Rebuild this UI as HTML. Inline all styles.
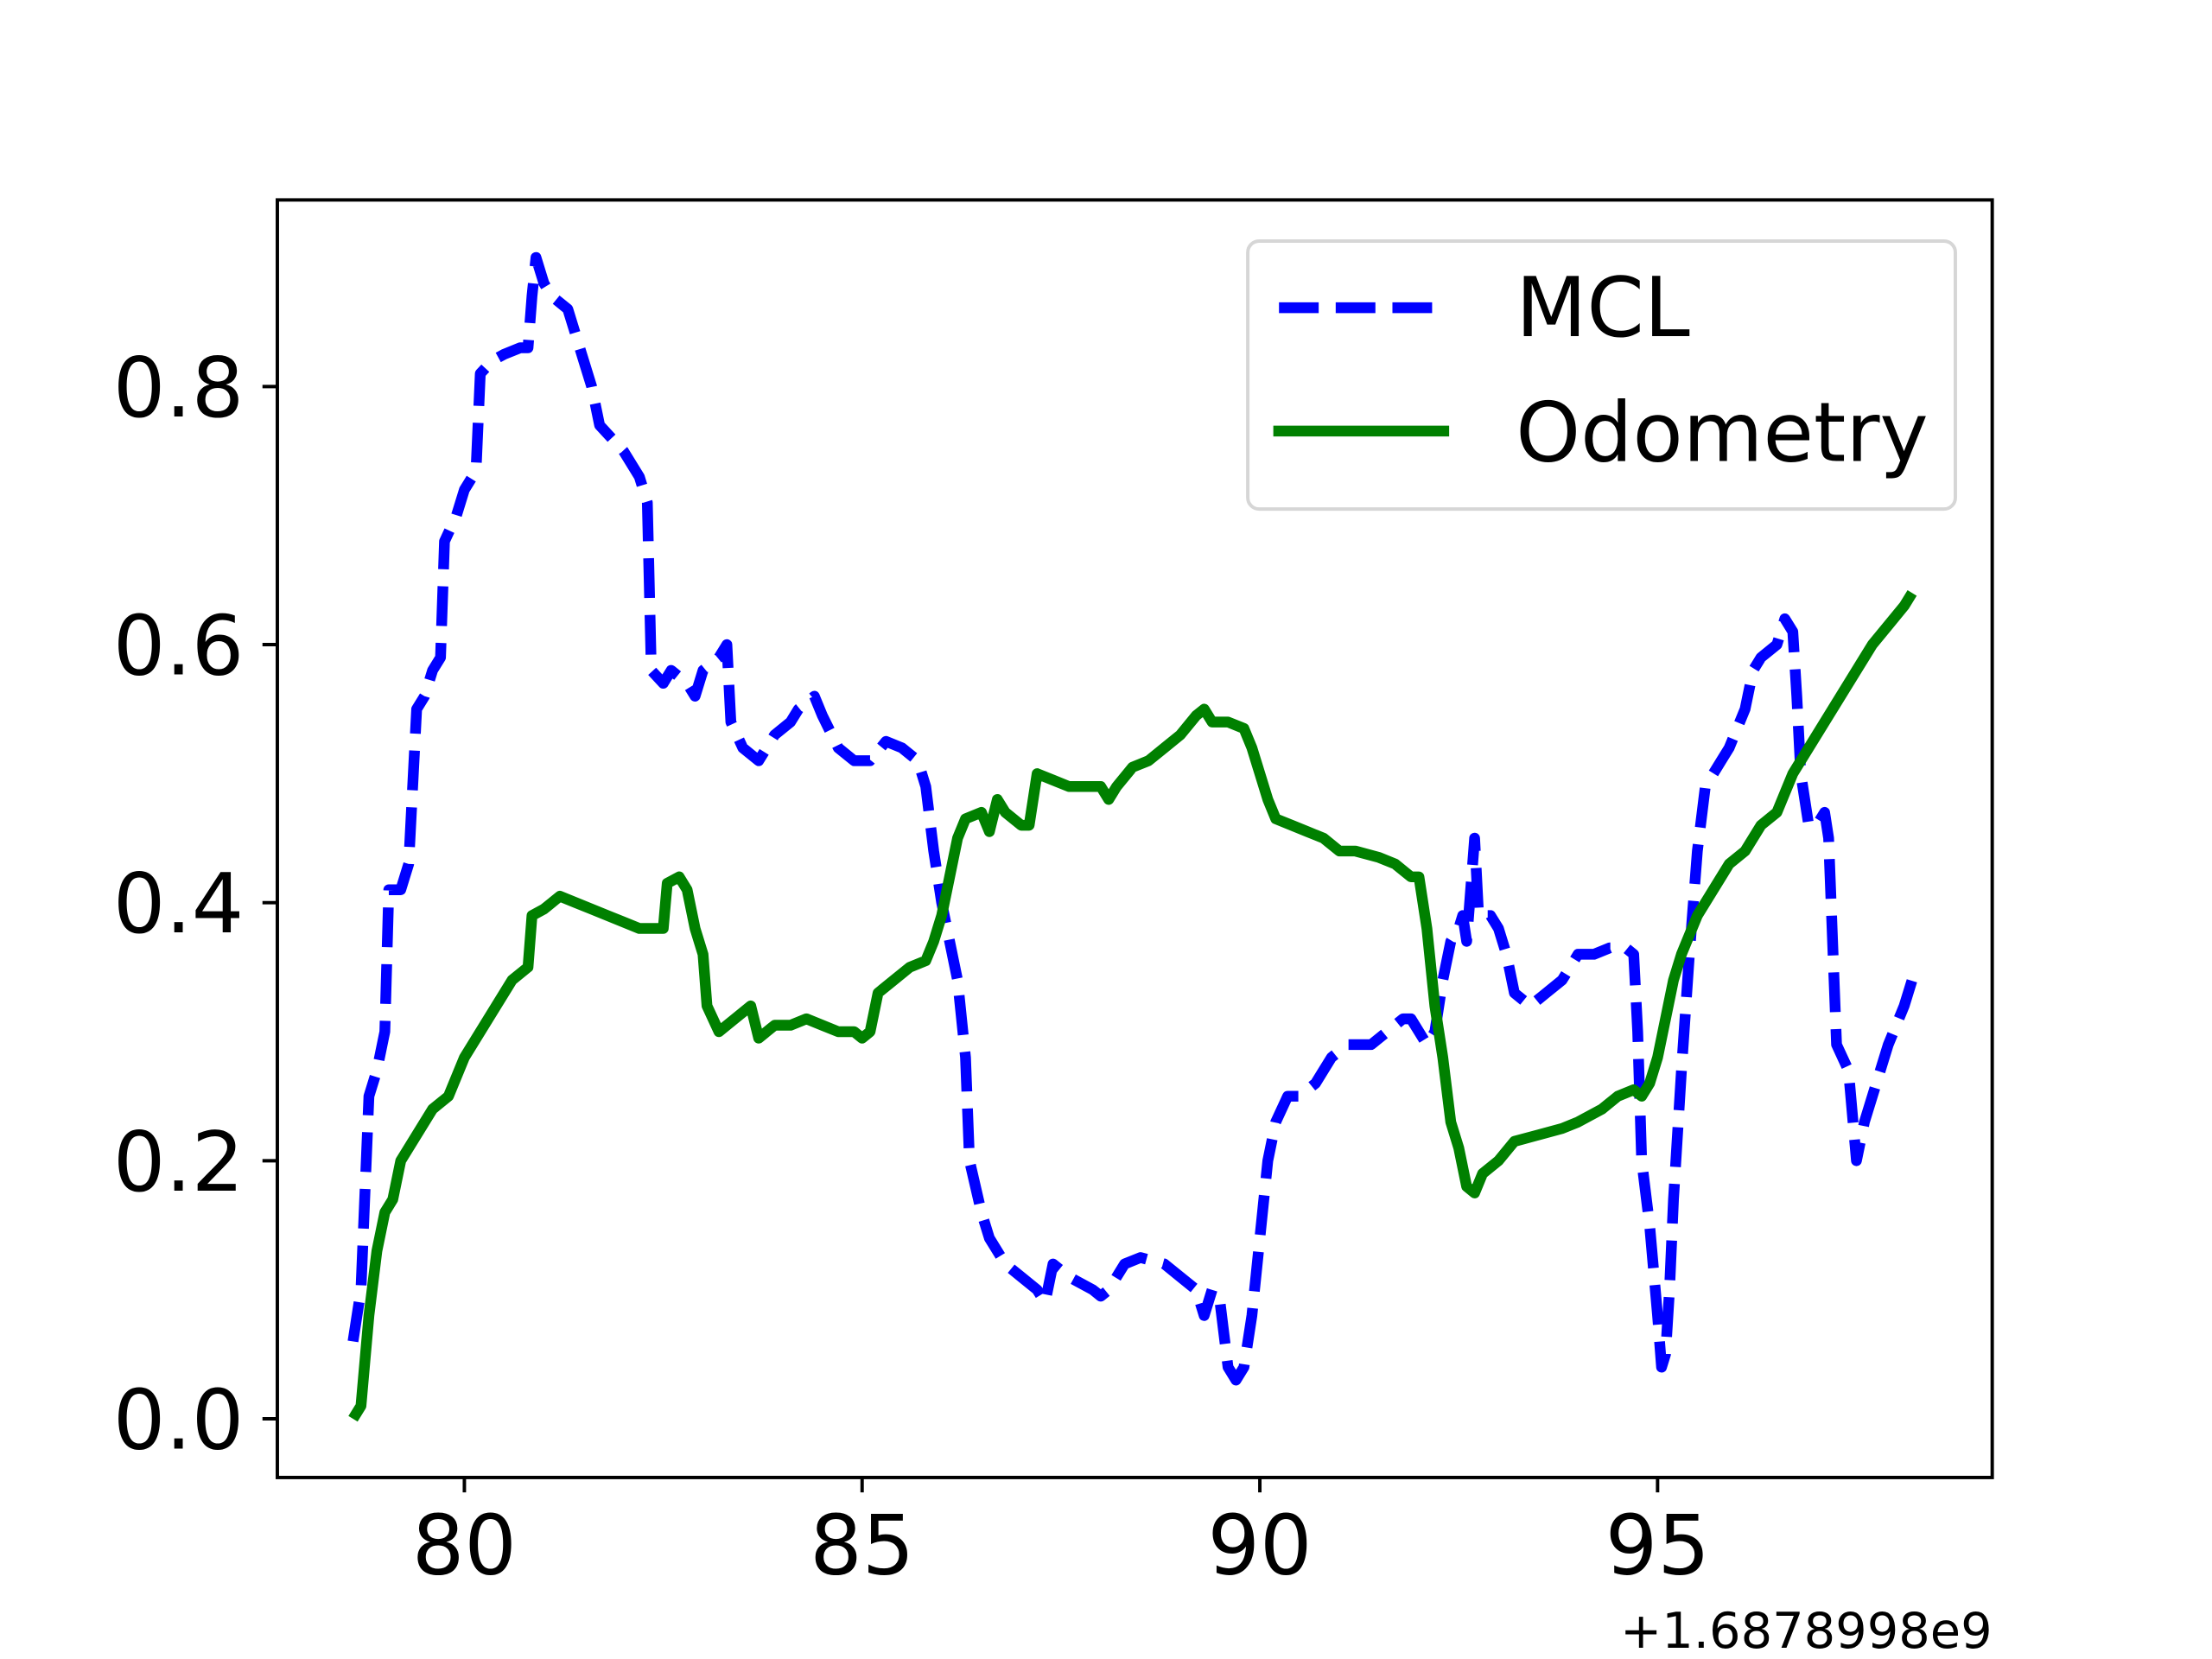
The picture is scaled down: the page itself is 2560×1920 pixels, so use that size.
<!DOCTYPE html>
<html><head><meta charset="utf-8"><style>
html,body{margin:0;padding:0;background:#fff;}
svg{display:block;}
text{font-family:"DejaVu Sans","Liberation Sans",sans-serif;}
</style></head>
<body>
<svg id="chart" width="2560" height="1920" viewBox="0 0 1560 1170" xmlns="http://www.w3.org/2000/svg">
<rect x="0" y="0" width="1560" height="1170" fill="#fff"/>
<g id="plot"></g>
<g id="axes"></g>
<g id="legend">
<rect x="880" y="170" width="499" height="189" rx="8" fill="#fff" fill-opacity="0.8" stroke="#d6d6d6" stroke-width="2.4"/>
<line x1="902" y1="217" x2="1020" y2="217" stroke="#0000ff" stroke-width="7.6" stroke-dasharray="28,12"/>
<text x="1069" y="237" font-size="58">MCL</text>
<line x1="898" y1="304" x2="1022" y2="304" stroke="#008000" stroke-width="7.6"/>
<text x="1069" y="325" font-size="58">Odometry</text>
</g>
</svg>
<script>
const xTicks = [80, 85, 90, 95];
const xTickLabels = ["80", "85", "90", "95"];
const yTicks = [0, 0.2, 0.4, 0.6, 0.8];
const yTickLabels = ["0.0", "0.2", "0.4", "0.6", "0.8"];
const offsetLabel = "+1.6878998e9";

const mclX = [78.6,78.7,78.8,78.9,79.0,79.05,79.2,79.3,79.4,79.5,79.6,79.7,79.75,79.9,80.0,80.1,80.15,80.2,80.35,80.5,80.7,80.8,80.85,80.9,81.0,81.1,81.3,81.5,81.6,81.7,81.85,82.0,82.2,82.3,82.35,82.5,82.6,82.8,82.9,83.0,83.2,83.3,83.35,83.5,83.7,83.9,84.1,84.2,84.4,84.5,84.7,84.9,85.1,85.3,85.5,85.7,85.8,85.9,86.0,86.1,86.2,86.3,86.35,86.5,86.6,86.8,87.0,87.2,87.3,87.4,87.6,87.9,88.0,88.1,88.3,88.5,88.8,89.0,89.2,89.3,89.4,89.5,89.6,89.7,89.8,89.9,90.0,90.1,90.2,90.35,90.5,90.7,90.9,91.1,91.4,91.6,91.8,91.9,92.0,92.1,92.2,92.3,92.4,92.5,92.55,92.6,92.7,92.75,92.9,93.0,93.1,93.2,93.4,93.6,93.8,94.0,94.2,94.4,94.6,94.7,94.75,94.8,94.9,95.0,95.05,95.1,95.15,95.2,95.3,95.4,95.5,95.6,95.8,95.9,96.1,96.2,96.3,96.5,96.6,96.7,96.75,96.8,96.9,97.0,97.1,97.15,97.25,97.4,97.5,97.6,97.7,97.9,98.1,98.2];
const mclY = [0.06,0.1,0.25,0.27,0.3,0.41,0.41,0.43,0.55,0.56,0.58,0.59,0.68,0.7,0.72,0.73,0.74,0.81,0.82,0.825,0.83,0.83,0.87,0.9,0.88,0.87,0.86,0.82,0.8,0.77,0.76,0.75,0.73,0.71,0.58,0.57,0.58,0.57,0.56,0.58,0.59,0.6,0.54,0.52,0.51,0.53,0.54,0.55,0.56,0.545,0.52,0.51,0.51,0.525,0.52,0.51,0.49,0.44,0.4,0.37,0.34,0.28,0.2,0.16,0.14,0.12,0.11,0.1,0.09,0.12,0.11,0.1,0.095,0.1,0.12,0.125,0.12,0.11,0.1,0.08,0.1,0.09,0.04,0.03,0.04,0.08,0.14,0.2,0.23,0.25,0.25,0.26,0.28,0.29,0.29,0.3,0.31,0.31,0.3,0.29,0.3,0.34,0.37,0.38,0.39,0.37,0.45,0.39,0.39,0.38,0.36,0.33,0.32,0.33,0.34,0.36,0.36,0.365,0.365,0.36,0.3,0.2,0.15,0.08,0.04,0.05,0.1,0.17,0.27,0.36,0.44,0.49,0.51,0.52,0.55,0.58,0.59,0.6,0.62,0.61,0.56,0.5,0.46,0.46,0.47,0.45,0.29,0.27,0.2,0.23,0.25,0.29,0.32,0.34];

const odoX = [78.6,78.7,78.8,78.9,79.0,79.1,79.2,79.4,79.6,79.8,80.0,80.2,80.4,80.6,80.8,80.85,81.0,81.2,81.4,81.6,81.8,82.0,82.2,82.4,82.5,82.55,82.7,82.8,82.9,83.0,83.05,83.2,83.4,83.6,83.7,83.9,84.1,84.3,84.5,84.7,84.9,85.0,85.1,85.2,85.4,85.6,85.8,85.9,86.0,86.1,86.2,86.3,86.5,86.6,86.7,86.8,87.0,87.1,87.2,87.4,87.6,87.8,88.0,88.1,88.2,88.4,88.6,88.8,89.0,89.2,89.3,89.4,89.6,89.8,89.9,90.0,90.1,90.2,90.4,90.6,90.8,91.0,91.2,91.5,91.7,91.9,92.0,92.1,92.2,92.3,92.4,92.5,92.6,92.7,92.8,93.0,93.2,93.5,93.8,94.0,94.3,94.5,94.7,94.8,94.9,95.0,95.1,95.2,95.3,95.5,95.7,95.9,96.1,96.3,96.5,96.7,96.9,97.1,97.3,97.5,97.7,97.9,98.1,98.2];
const odoY = [0.0,0.01,0.08,0.13,0.16,0.17,0.2,0.22,0.24,0.25,0.28,0.3,0.32,0.34,0.35,0.39,0.395,0.405,0.4,0.395,0.39,0.385,0.38,0.38,0.38,0.415,0.42,0.41,0.38,0.36,0.32,0.3,0.31,0.32,0.295,0.305,0.305,0.31,0.305,0.3,0.3,0.295,0.3,0.33,0.34,0.35,0.355,0.37,0.39,0.42,0.45,0.465,0.47,0.455,0.48,0.47,0.46,0.46,0.5,0.495,0.49,0.49,0.49,0.48,0.49,0.505,0.51,0.52,0.53,0.545,0.55,0.54,0.54,0.535,0.52,0.5,0.48,0.465,0.46,0.455,0.45,0.44,0.44,0.435,0.43,0.42,0.42,0.38,0.32,0.28,0.23,0.21,0.18,0.175,0.19,0.2,0.215,0.22,0.225,0.23,0.24,0.25,0.255,0.25,0.26,0.28,0.31,0.34,0.36,0.39,0.41,0.43,0.44,0.46,0.47,0.5,0.52,0.54,0.56,0.58,0.6,0.615,0.63,0.64];

const L = 195.6, R = 1405, T = 141, B = 1042;
function xs(v){ return 327.5 + (v - 80) * 56.1; }
function ys(v){ return 1000.6 - v * 910; }
const NS = "http://www.w3.org/2000/svg";
function mk(tag, attrs, parent){
  const e = document.createElementNS(NS, tag);
  for (const k in attrs) e.setAttribute(k, attrs[k]);
  parent.appendChild(e);
  return e;
}
const plot = document.getElementById('plot');
const axes = document.getElementById('axes');

function pathD(xa, ya){
  return xa.map((x,i)=>(i?'L':'M')+xs(x).toFixed(2)+','+ys(ya[i]).toFixed(2)).join(' ');
}
const mcl = mk('path', {d: pathD(mclX, mclY), fill:'none', stroke:'#0000ff', 'stroke-width':7.6, 'stroke-dasharray':'28,12', 'stroke-linejoin':'round'}, plot);


const odo = mk('path', {d: pathD(odoX, odoY), fill:'none', stroke:'#008000', 'stroke-width':7.6, 'stroke-linejoin':'round'}, plot);



const frame = mk('rect', {x:L, y:T, width:R-L, height:B-T, fill:'none', stroke:'#000', 'stroke-width':2.4}, axes);



xTicks.forEach((v,i)=>{
  const t = mk('line', {x1:xs(v), x2:xs(v), y1:B, y2:B+10.5, stroke:'#000', 'stroke-width':2.4}, axes);
  
  
  const lb = mk('text', {x:xs(v), y:1110, 'font-size':58, 'text-anchor':'middle'}, axes);
  lb.textContent = xTickLabels[i];
  
  
});
yTicks.forEach((v,i)=>{
  const t = mk('line', {x1:L-10.5, x2:L, y1:ys(v), y2:ys(v), stroke:'#000', 'stroke-width':2.4}, axes);
  
  
  const lb = mk('text', {x:172, y:ys(v)+21, 'font-size':58, 'text-anchor':'end'}, axes);
  lb.textContent = yTickLabels[i];
  
  
});
const off = mk('text', {x:R, y:1162, 'font-size':35, 'text-anchor':'end'}, axes);
off.textContent = offsetLabel;


</script>
</body></html>
